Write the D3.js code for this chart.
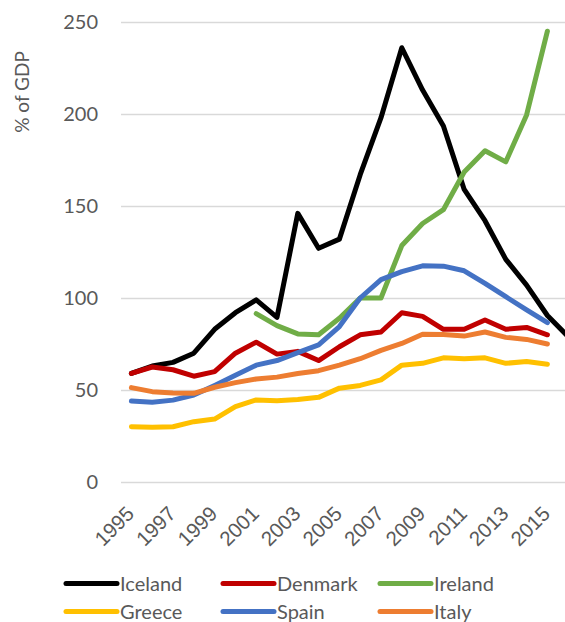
<!DOCTYPE html>
<html>
<head>
<meta charset="utf-8">
<script src="https://cdn.jsdelivr.net/npm/d3@7"></script>
<style>
  html, body { margin: 0; padding: 0; background: #fff; }
  svg { display: block; font-family: Lato, "Open Sans", sans-serif; }
</style>
</head>
<body>
<svg id="chart" width="565" height="622"></svg>
<script>
// Years on the category axis (1995–2016)
const years = [1995,1996,1997,1998,1999,2000,2001,2002,2003,2004,2005,2006,2007,2008,2009,2010,2011,2012,2013,2014,2015,2016];
const yearTicks = [1995,1997,1999,2001,2003,2005,2007,2009,2011,2013,2015];
const valueTicks = [0,50,100,150,200,250];

// Debt, % of GDP; null where no figure is available
const iceland = [59,63,65,70,83,92,99,89.5,146,127,132,167,198,236,213,193.5,159,142,121,107,90.5,79];
const denmark = [59,62.5,61,57.5,60,70,76,69.5,71,66,73.5,80,81.5,92,90,83,83,88,83,84,80,null];
const ireland = [null,null,null,null,null,null,91.5,85,80.5,80,89,100,100,128.5,140.5,148,168.5,180,174,199.5,245,null];
const greece  = [30,29.8,30,32.8,34.2,41,44.6,44.2,44.8,46,51,52.5,55.5,63.5,64.5,67.5,67,67.5,64.5,65.5,64,null];
const spain   = [44,43.3,44.5,47.3,52.5,58,63.5,66,70.3,74.5,84.5,100,110,114.3,117.5,117.3,114.8,108,100.7,93.5,86.6,null];
const italy   = [51.3,49.1,48.4,48.2,51.5,54,56,57,59,60.5,63.5,67,71.5,75.3,80.3,80.2,79.3,81.5,78.6,77.5,75,null];

const seriesNames  = ["Iceland","Denmark","Ireland","Greece","Spain","Italy"];
const seriesValues = [iceland, denmark, ireland, greece, spain, italy];
const seriesColors = ["#000000","#C00000","#70AD47","#FFC000","#4472C4","#ED7D31"];

const svg = d3.select("#chart");
const textColor = "#595959";
const gridColor = "#D9D9D9";

const plot = { left: 121, right: 578.6, top: 22, bottom: 482 };

const x = d3.scaleBand()
  .domain(years)
  .range([plot.left, plot.right])
  .paddingInner(0).paddingOuter(0);
const xc = yr => x(yr) + x.bandwidth() / 2;

const y = d3.scaleLinear()
  .domain([0, 250])
  .range([plot.bottom, plot.top]);

// Horizontal gridlines and value labels
const yAxis = d3.axisLeft(y)
  .tickValues(valueTicks)
  .tickSize(-(plot.right - plot.left))
  .tickPadding(23)
  .tickFormat(d3.format("d"));

const gy = svg.append("g")
  .attr("transform", `translate(${plot.left},0)`)
  .call(yAxis);
gy.select(".domain").remove();
gy.selectAll(".tick line").attr("stroke", gridColor).attr("stroke-width", 1.3);
gy.selectAll(".tick text")
  .attr("fill", textColor)
  .attr("font-size", 20)
  .attr("font-family", "Lato, sans-serif");

// Axis title
svg.append("text")
  .attr("transform", "translate(29,92) rotate(-90)")
  .attr("text-anchor", "middle")
  .attr("fill", textColor)
  .attr("font-size", 19)
  .text("% of GDP");

// Category labels, slanted
const xAxis = d3.axisBottom(x)
  .tickValues(yearTicks)
  .tickSize(0)
  .tickPadding(0);
const gx = svg.append("g")
  .attr("transform", `translate(0,${plot.bottom})`)
  .call(xAxis);
gx.select(".domain").remove();
gx.selectAll(".tick text")
  .attr("fill", textColor)
  .attr("font-size", 20.5)
  .attr("text-anchor", "end")
  .attr("dy", null)
  .attr("y", 0)
  .attr("transform", "translate(4,33) rotate(-45)");

// Series lines
const line = d3.line()
  .defined(d => d.v != null)
  .x(d => xc(d.year))
  .y(d => y(d.v));

const lines = svg.append("g");
seriesNames.forEach((name, i) => {
  const pts = years.map((yr, j) => ({ year: yr, v: seriesValues[i][j] }));
  lines.append("path")
    .datum(pts)
    .attr("fill", "none")
    .attr("stroke", seriesColors[i])
    .attr("stroke-width", 5)
    .attr("stroke-linejoin", "round")
    .attr("stroke-linecap", "round")
    .attr("d", line);
});

// Legend, two rows of three
const legendCols = [66, 223, 380];
const legendRows = [583.5, 611.5];
const legend = svg.append("g");
seriesNames.forEach((name, i) => {
  const lx = legendCols[i % 3];
  const ly = legendRows[Math.floor(i / 3)];
  legend.append("line")
    .attr("x1", lx).attr("x2", lx + 51)
    .attr("y1", ly).attr("y2", ly)
    .attr("stroke", seriesColors[i])
    .attr("stroke-width", 5)
    .attr("stroke-linecap", "round");
  legend.append("text")
    .attr("x", lx + 54)
    .attr("y", ly)
    .attr("dy", "0.36em")
    .attr("fill", textColor)
    .attr("font-size", 20)
    .text(name);
});
</script>
</body>
</html>
